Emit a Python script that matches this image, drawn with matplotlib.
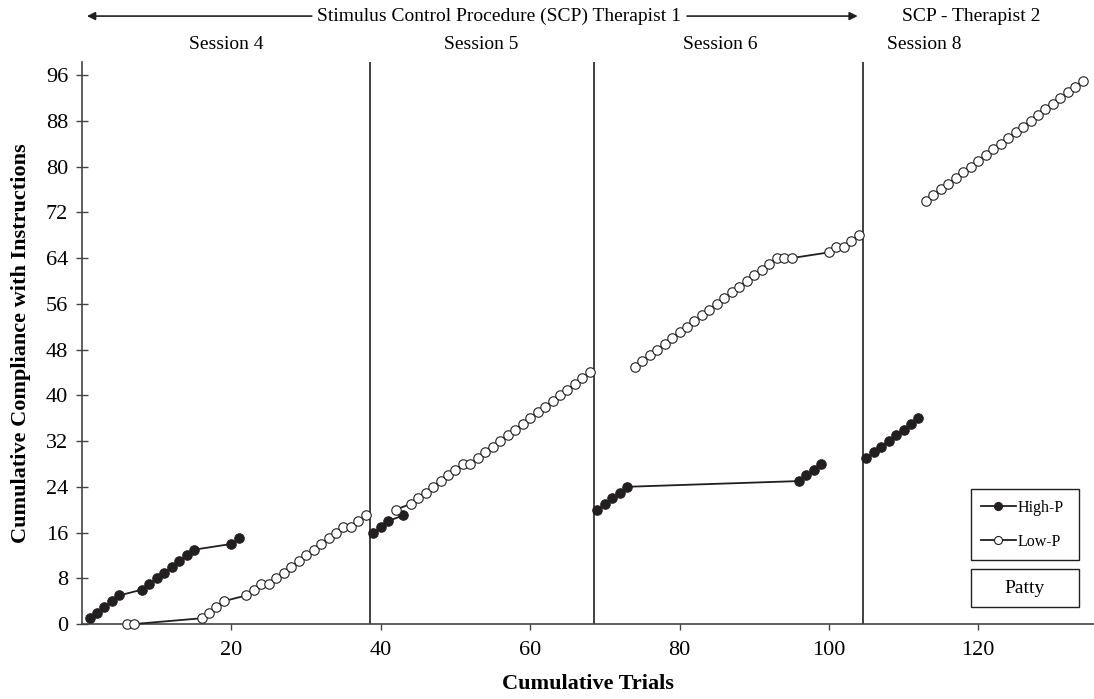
import matplotlib
matplotlib.use('Agg')
import matplotlib.pyplot as plt
from matplotlib.patches import Rectangle

plt.rcParams['font.family'] = ['Liberation Serif', 'DejaVu Serif']

'''
Data (read off the reference chart)
'''
# Session 4 - SCP Therapist 1
hp_s4_x = [1, 2, 3, 4, 5, 8, 9, 10, 11, 12, 13, 14, 15, 20, 21]
hp_s4_y = [1, 2, 3, 4, 5, 6, 7, 8, 9, 10, 11, 12, 13, 14, 15]
lp_s4_x = [6, 7, 16, 17, 18, 19, 22, 23, 24, 25, 26, 27, 28, 29, 30, 31, 32,
           33, 34, 35, 36, 37, 38]
lp_s4_y = [0, 0, 1, 2, 3, 4, 5, 6, 7, 7, 8, 9, 10, 11, 12, 13, 14, 15, 16,
           17, 17, 18, 19]

# Session 5 - SCP Therapist 1
hp_s5_x = [39, 40, 41, 43]
hp_s5_y = [16, 17, 18, 19]
lp_s5_x = [42, 44, 45, 46, 47, 48, 49, 50, 51, 52, 53, 54, 55, 56, 57, 58, 59,
           60, 61, 62, 63, 64, 65, 66, 67, 68]
lp_s5_y = [20, 21, 22, 23, 24, 25, 26, 27, 28, 28, 29, 30, 31, 32, 33, 34, 35,
           36, 37, 38, 39, 40, 41, 42, 43, 44]

# Session 6 - SCP Therapist 1
hp_s6_x = [69, 70, 71, 72, 73, 96, 97, 98, 99]
hp_s6_y = [20, 21, 22, 23, 24, 25, 26, 27, 28]
lp_s6_x = [74, 75, 76, 77, 78, 79, 80, 81, 82, 83, 84, 85, 86, 87, 88, 89, 90,
           91, 92, 93, 94, 95, 100, 101, 102, 103, 104]
lp_s6_y = [45, 46, 47, 48, 49, 50, 51, 52, 53, 54, 55, 56, 57, 58, 59, 60, 61,
           62, 63, 64, 64, 64, 65, 66, 66, 67, 68]

# Session 8 - SCP Therapist 2
hp_s8_x = [105, 106, 107, 108, 109, 110, 111, 112]
hp_s8_y = [29, 30, 31, 32, 33, 34, 35, 36]
lp_s8_x = [113, 114, 115, 116, 117, 118, 119, 120, 121, 122, 123, 124, 125,
           126, 127, 128, 129, 130, 131, 132, 133, 134]
lp_s8_y = [74, 75, 76, 77, 78, 79, 80, 81, 82, 83, 84, 85, 86, 87, 88, 89, 90,
           91, 92, 93, 94, 95]

phase_lines = [38.6, 68.6, 104.6]
session_labels = ['Session 4', 'Session 5', 'Session 6', 'Session 8']
x_ticks = [20, 40, 60, 80, 100, 120]
y_ticks = [0, 8, 16, 24, 32, 40, 48, 56, 64, 72, 80, 88, 96]

'''
Plot
'''
C_INK = '#231f20'

fig = plt.figure(figsize=(10.94, 6.99), dpi=100)
ax = fig.add_axes([0.075, 0.1073, 0.925, 0.804])

high_p = [(hp_s4_x, hp_s4_y), (hp_s5_x, hp_s5_y), (hp_s6_x, hp_s6_y),
          (hp_s8_x, hp_s8_y)]
low_p = [(lp_s4_x, lp_s4_y), (lp_s5_x, lp_s5_y), (lp_s6_x, lp_s6_y),
         (lp_s8_x, lp_s8_y)]

for i, (x, y) in enumerate(high_p):
    ax.plot(x, y, color=C_INK, lw=1.3, marker='o', ms=6.8,
            mfc=C_INK, mec=C_INK, mew=0.8, zorder=3,
            label='High-P' if i == 0 else None, clip_on=False)

for i, (x, y) in enumerate(low_p):
    ax.plot(x, y, color=C_INK, lw=1.3, marker='o', ms=6.8,
            mfc='white', mec=C_INK, mew=0.8, zorder=3,
            label='Low-P' if i == 0 else None, clip_on=False)

for xv in phase_lines:
    ax.axvline(xv, color=C_INK, lw=1.2, zorder=2)

ax.set_xlim(0, 135.5)
ax.set_ylim(0, 98.3)
ax.set_xticks(x_ticks)
ax.set_yticks(y_ticks)
ax.tick_params(axis='x', direction='out', length=4, width=1, labelsize=16,
               pad=8, color='#444444')
ax.tick_params(axis='y', direction='inout', length=8, width=1, labelsize=16,
               pad=6, color='#444444')

for side in ['top', 'right']:
    ax.spines[side].set_visible(False)
for side in ['left', 'bottom']:
    ax.spines[side].set_linewidth(1.2)
    ax.spines[side].set_color('#444444')

ax.set_xlabel('Cumulative Trials', fontsize=16, fontweight='bold',
              labelpad=10)
ax.set_ylabel('Cumulative Compliance with Instructions', fontsize=16,
              fontweight='bold', labelpad=11)

# Legend box and participant box
leg = ax.legend(loc='upper left', bbox_to_anchor=(0.878, 0.112, 0.107, 0.128),
                mode='expand', borderaxespad=0, fontsize=11.5, frameon=True,
                fancybox=False, edgecolor=C_INK, framealpha=1,
                handlelength=2.2, handletextpad=0.1, labelspacing=1.15,
                borderpad=0.65, markerscale=0.85)
leg.get_frame().set_linewidth(1.0)

ax.add_patch(Rectangle((0.878, 0.030), 0.107, 0.068, transform=ax.transAxes,
                       fill=False, edgecolor=C_INK, lw=1.0, clip_on=False))
ax.text(0.9315, 0.064, 'Patty', transform=ax.transAxes, fontsize=14,
        ha='center', va='center')

# Phase annotations on top
fig.text(0.456, 0.977, 'Stimulus Control Procedure (SCP) Therapist 1',
         fontsize=14, ha='center', va='center')
fig.text(0.888, 0.977, 'SCP - Therapist 2', fontsize=14, ha='center',
         va='center')
ax.annotate('', xy=(0.0795, 0.977), xytext=(0.285, 0.977),
            xycoords='figure fraction', textcoords='figure fraction',
            arrowprops=dict(arrowstyle='-|>', color=C_INK, lw=1.2,
                            mutation_scale=12, shrinkA=0, shrinkB=0))
ax.annotate('', xy=(0.784, 0.977), xytext=(0.628, 0.977),
            xycoords='figure fraction', textcoords='figure fraction',
            arrowprops=dict(arrowstyle='-|>', color=C_INK, lw=1.2,
                            mutation_scale=12, shrinkA=0, shrinkB=0))

for label, xf in zip(session_labels, [0.2066, 0.4397, 0.658, 0.8446]):
    fig.text(xf, 0.936, label, fontsize=14, ha='center', va='center')

fig.savefig('out.png', dpi=100)
